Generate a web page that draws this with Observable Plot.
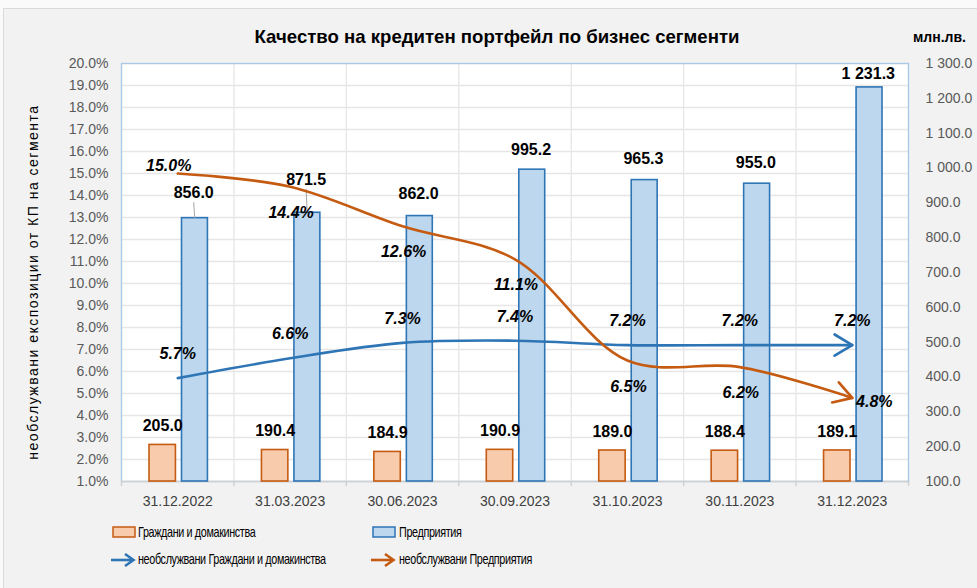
<!DOCTYPE html>
<html><head><meta charset="utf-8">
<script src="https://cdn.jsdelivr.net/npm/d3@7"></script>
<script src="https://cdn.jsdelivr.net/npm/@observablehq/plot@0.6"></script>
<style>
body{margin:0;background:#fafafa;}
#wrap{position:relative;width:977px;height:588px;background:#fafafa;overflow:hidden;font-family:"Liberation Sans",Arial,sans-serif;}
#panel{position:absolute;left:3px;top:8px;width:980px;height:590px;background:#f2f2f2;border:1px solid #dadada;}
#chart{position:absolute;left:0;top:0;}
#title{position:absolute;left:497px;top:26px;transform:translateX(-50%);white-space:nowrap;font-weight:bold;font-size:18.6px;color:#000;}
#unit{position:absolute;left:913px;top:29px;font-weight:bold;font-size:14px;color:#000;}
#ytitle{position:absolute;left:-167px;top:274px;width:400px;text-align:center;transform:rotate(-90deg);font-size:14px;letter-spacing:1.5px;color:#000;white-space:nowrap;}
.lg{position:absolute;font-size:15px;color:#000;white-space:nowrap;letter-spacing:-0.5px;transform:scaleX(0.72);transform-origin:0 50%;}
.sw{position:absolute;}
</style></head><body>
<div id="wrap">
  <div id="panel"></div>
  <div id="chart"></div>
  <div id="title">Качество на кредитен портфейл по бизнес сегменти</div>
  <div id="unit">млн.лв.</div>
  <div id="ytitle">необслужвани експозиции от КП на сегмента</div>
  <div id="legend"></div>
</div>
<script>
// ---- data ----
const dates = ["31.12.2022","31.03.2023","30.06.2023","30.09.2023","31.10.2023","30.11.2023","31.12.2023"];
const households = [205.0,190.4,184.9,190.9,189.0,188.4,189.1];          // млн.лв.
const enterprises = [856.0,871.5,862.0,995.2,965.3,955.0,1231.3];        // млн.лв.
const nplHouseholds = [5.7,6.6,7.3,7.4,7.2,7.2,7.2];                     // %
const nplEnterprises = [15.0,14.4,12.6,11.1,6.5,6.2,4.8];                // %
const pctTicks = [1,2,3,4,5,6,7,8,9,10,11,12,13,14,15,16,17,18,19,20];
const mlnTicks = [100,200,300,400,500,600,700,800,900,1000,1100,1200,1300];
const seriesNames = ["Граждани и домакинства","Предприятия","необслужвани Граждани и домакинства","необслужвани Предприятия"];

// ---- layout ----
const W = 977, H = 520, ML = 121, MR = 69, MT = 63, MB = 39;
const bw = (W - ML - MR) / dates.length;          // px per category
const pctPerPx = (pctTicks[pctTicks.length-1] - pctTicks[0]) / (H - MT - MB);
const mMin = mlnTicks[0], mMax = mlnTicks[mlnTicks.length-1];
const pMin = pctTicks[0], pMax = pctTicks[pctTicks.length-1];
const toPct = v => pMin + (v - mMin) * (pMax - pMin) / (mMax - mMin);
const toMln = p => mMin + (p - pMin) * (mMax - mMin) / (pMax - pMin);

const loc = d3.formatLocale({decimal: ".", thousands: " ", grouping: [3], currency: ["", ""]});
const fmtM = loc.format(",.1f");
const fmtP = v => v.toFixed(1) + "%";

const rows = dates.map((d, i) => ({i, date: d, hh: households[i], ent: enterprises[i], nh: nplHouseholds[i], ne: nplEnterprises[i]}));

const cOrange = "#c55a11", cOrangeFill = "#f8cbad", cBlue = "#2e75b6", cBlueFill = "#bdd7ee";
const grid = "#e6e6e6";

// label lifts in px (label centre above bar top)
const entLift = [25, 33, 22, 20, 21, 21, 14];
const hhLift = 19;

const chart = Plot.plot({
  width: W, height: H,
  marginLeft: ML, marginRight: MR, marginTop: MT, marginBottom: MB,
  style: {background: "transparent", fontFamily: "'Liberation Sans', Arial, sans-serif", overflow: "visible"},
  x: {type: "linear", domain: [-0.5, dates.length - 0.5]},
  y: {type: "linear", domain: [pMin, pMax]},
  marks: [
    Plot.frame({fill: "white", stroke: "none"}),
    Plot.ruleY(pctTicks, {stroke: grid, strokeWidth: 1.3}),
    Plot.ruleX(d3.range(dates.length + 1), {x: k => k - 0.5, y1: pMin - 5 * pctPerPx, y2: pMax, stroke: grid, strokeWidth: 1.3}),
    Plot.ruleX(d3.range(dates.length + 1), {x: k => k - 0.5, y1: pMin - 5 * pctPerPx, y2: pMin, stroke: "#d0d0d0", strokeWidth: 1.3}),
    Plot.frame({stroke: "#a9c9e8", strokeWidth: 1.3}),
    Plot.ruleY([pMin], {stroke: "#d0d0d0", strokeWidth: 1.6}),
    // bars
    Plot.rectY(rows, {x1: d => d.i - 0.5, x2: d => d.i + 0.5, y1: pMin, y2: d => toPct(d.hh), insetLeft: 28, insetRight: 58, fill: cOrangeFill, stroke: cOrange, strokeWidth: 1.6}),
    Plot.rectY(rows, {x1: d => d.i - 0.5, x2: d => d.i + 0.5, y1: pMin, y2: d => toPct(d.ent), insetLeft: 60.5, insetRight: 26, fill: cBlueFill, stroke: cBlue, strokeWidth: 1.6}),
    // leader lines for moved labels
    Plot.link(rows.filter(d => d.i < 2), {x1: d => d.i + 17 / bw, x2: d => d.i + 16 / bw, y1: d => toPct(d.ent), y2: d => toPct(d.ent) + (entLift[d.i] - 9) * pctPerPx, stroke: "#a6a6a6", strokeWidth: 1}),
    // lines
    Plot.line(rows, {x: "i", y: "nh", stroke: cBlue, strokeWidth: 2.6, curve: "catmull-rom", markerEnd: "arrow"}),
    Plot.line(rows, {x: "i", y: "ne", stroke: cOrange, strokeWidth: 2.6, curve: "catmull-rom", markerEnd: "arrow"}),
    // bar labels
    Plot.text(rows, {x: d => d.i - 15 / bw, y: d => toPct(d.hh) + hhLift * pctPerPx, text: d => fmtM(d.hh), fontSize: 16, fontWeight: "bold", fill: "#000"}),
    Plot.text(rows, {x: d => d.i + 16 / bw, y: d => toPct(d.ent) + entLift[d.i] * pctPerPx, text: d => fmtM(d.ent), fontSize: 16, fontWeight: "bold", fill: "#000"}),
    // percent labels
    Plot.text(rows, {x: "i", y: d => d.nh + 24 * pctPerPx, text: d => fmtP(d.nh), fontSize: 16, fontWeight: "bold", fontStyle: "italic", fill: "#000"}),
    Plot.text(rows, {
      x: d => d.i + (d.i === 0 ? -9 : d.i === dates.length - 1 ? 22 : 1) / bw,
      y: d => d.ne + (d.i === 0 ? 8 : d.i === dates.length - 1 ? -4 : -26) * pctPerPx,
      text: d => fmtP(d.ne), fontSize: 16, fontWeight: "bold", fontStyle: "italic", fill: "#000"}),
    // axes
    Plot.axisY({anchor: "left", ticks: pctTicks, tickFormat: fmtP, tickSize: 0, tickPadding: 13, fontSize: 14, fill: "#595959", label: null}),
    Plot.axisY({anchor: "right", ticks: mlnTicks.map(toPct), tickFormat: p => fmtM(Math.round(toMln(p) * 10) / 10), tickSize: 0, tickPadding: 17, fontSize: 14, fill: "#595959", label: null}),
    Plot.axisX({ticks: dates.map((d, i) => i), tickFormat: i => dates[i], tickSize: 0, tickPadding: 15, fontSize: 14, fill: "#404040", label: null})
  ]
});

// enlarge the open arrowheads to match the reference
d3.select(chart).selectAll("marker")
  .attr("markerWidth", 17).attr("markerHeight", 17)
  .attr("stroke-width", 0.6)
  .select("path").attr("d", "M-4,-2.4L0,0L-4,2.4");

document.getElementById("chart").appendChild(chart);

// ---- legend ----
const lg = d3.select("#legend");
function swatch(x, y, fill, stroke) {
  lg.append("svg").attr("class", "sw").style("left", x + "px").style("top", y + "px").attr("width", 24).attr("height", 12)
    .append("rect").attr("x", 1).attr("y", 1).attr("width", 22).attr("height", 10).attr("fill", fill).attr("stroke", stroke).attr("stroke-width", 1.5);
}
function arrow(x, y, color) {
  const s = lg.append("svg").attr("class", "sw").style("left", x + "px").style("top", y + "px").attr("width", 26).attr("height", 18);
  s.append("line").attr("x1", 1).attr("y1", 9).attr("x2", 23).attr("y2", 9).attr("stroke", color).attr("stroke-width", 2.6);
  s.append("polyline").attr("points", "15,3 23.5,9 15,15").attr("fill", "none").attr("stroke", color).attr("stroke-width", 2.6).attr("stroke-linejoin", "miter");
}
function label(x, y, t) {
  lg.append("div").attr("class", "lg").style("left", x + "px").style("top", y + "px").text(t);
}
swatch(112, 526, cOrangeFill, cOrange); label(138, 523, seriesNames[0]);
swatch(372, 526, cBlueFill, cBlue);     label(399, 523, seriesNames[1]);
arrow(110, 551, cBlue);                 label(138, 550, seriesNames[2]);
arrow(370, 551, cOrange);               label(399, 550, seriesNames[3]);
</script>
</body></html>
